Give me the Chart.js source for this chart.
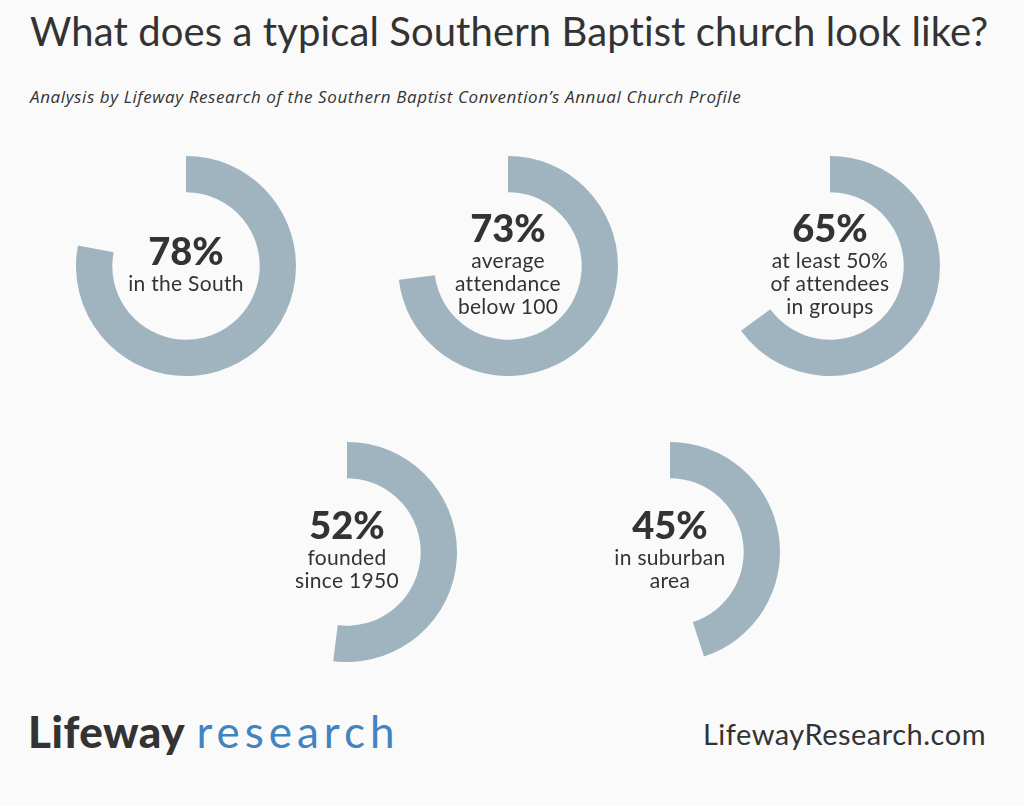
<!DOCTYPE html>
<html lang="en">
<head>
<meta charset="UTF-8">
<title>Southern Baptist church</title>
<script src="https://cdn.jsdelivr.net/npm/chart.js"></script>
<style>
    body { margin: 0; background: #fafafa; font-family: Lato, "Open Sans", sans-serif; color: #333; }
    #page { position: relative; width: 1024px; height: 806px; overflow: hidden; }
    h1 { position: absolute; left: 30px; top: 7px; margin: 0; font-weight: 400; font-size: 40px; letter-spacing: 0.1px; white-space: nowrap; color: #333; }
    .sub { position: absolute; left: 30px; top: 85px; font-family: "Open Sans", sans-serif; font-style: italic; font-size: 17px; letter-spacing: 0.6px; white-space: nowrap; color: #333; }
    .donut { position: absolute; width: 220px; height: 220px; }
    .label { position: absolute; width: 220px; text-align: center; transform: translate(-50%, -50%); }
    .label b { display: block; font-size: 38px; font-weight: 900; line-height: 42px; color: #333; }
    .label span { display: block; font-size: 21px; line-height: 23px; letter-spacing: 0.3px; color: #333; }
    .logo { position: absolute; left: 28px; top: 705px; font-size: 44px; white-space: nowrap; }
    .logo .a { font-weight: 900; color: #333; letter-spacing: 0.5px; }
    .logo .b { color: #4184c2; font-weight: 400; letter-spacing: 5px; }
    .url { position: absolute; right: 38px; top: 716px; font-size: 29px; letter-spacing: 0.5px; white-space: nowrap; color: #333; }
</style>
</head>
<body>
<div id="page">
    <h1>What does a typical Southern Baptist church look like?</h1>
    <div class="sub">Analysis by Lifeway Research of the Southern Baptist Convention’s Annual Church Profile</div>
    <div class="logo"><span class="a">Lifeway</span> <span class="b">research</span></div>
    <div class="url">LifewayResearch.com</div>
</div>

<script>
    // valores de cada anillo (porcentaje)
    const percents = [78, 73, 65, 52, 45];
    const captions = [
        ['in the South'],
        ['average', 'attendance', 'below 100'],
        ['at least 50%', 'of attendees', 'in groups'],
        ['founded', 'since 1950'],
        ['in suburban', 'area']
    ];
    // centros de cada anillo en la página
    const centers = [[186, 266], [508, 266], [830, 266], [347, 552], [670, 552]];
    const ringColor = '#a0b4c0';

    const page = document.getElementById('page');

    percents.forEach((p, i) => {
        const [cx, cy] = centers[i];

        const box = document.createElement('div');
        box.className = 'donut';
        box.style.left = (cx - 110) + 'px';
        box.style.top = (cy - 110) + 'px';
        const canvas = document.createElement('canvas');
        box.appendChild(canvas);
        page.appendChild(box);

        new Chart(canvas, {
            type: 'doughnut',
            data: {
                labels: ['yes', 'no'],
                datasets: [{
                    data: [p, 100 - p],
                    backgroundColor: [ringColor, 'rgba(0,0,0,0)'],
                    borderWidth: 0
                }]
            },
            options: {
                responsive: true,
                maintainAspectRatio: false,
                animation: false,
                cutout: '67%',
                layout: { padding: 0 },
                plugins: { legend: { display: false }, tooltip: { enabled: false } }
            }
        });

        // texto del centro
        const label = document.createElement('div');
        label.className = 'label';
        label.style.left = cx + 'px';
        label.style.top = (cy - 5) + 'px';
        label.innerHTML = '<b>' + p + '%</b>' + captions[i].map(t => '<span>' + t + '</span>').join('');
        page.appendChild(label);
    });
</script>
</body>
</html>
